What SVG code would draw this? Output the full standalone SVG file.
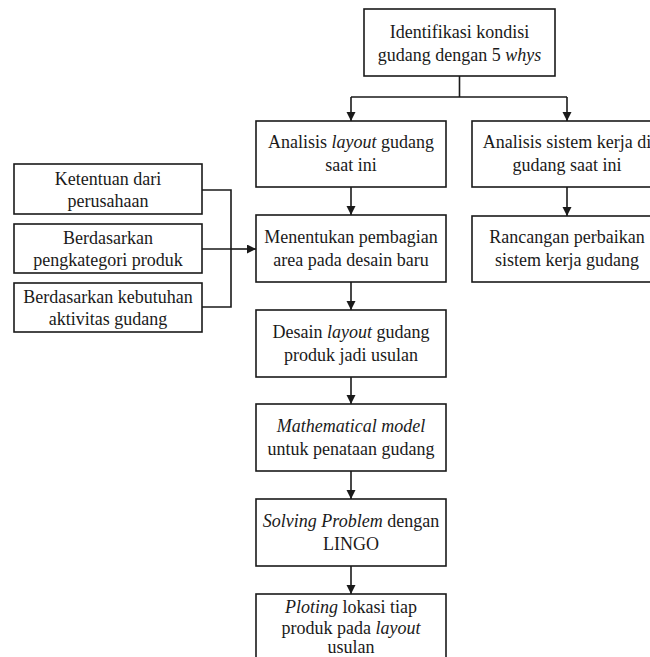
<svg xmlns="http://www.w3.org/2000/svg" width="650" height="657" viewBox="0 0 650 657">
<defs>
<style>
.box{fill:#fff;stroke:#1a1a1a;stroke-width:1.6}
.t{font-family:'Liberation Serif','DejaVu Serif','Noto Serif',serif;font-size:18px;fill:#1a1a1a;text-anchor:middle}
.i{font-style:italic}
.c{fill:none;stroke:#1a1a1a;stroke-width:1.6}
</style>
<marker id="ah" markerUnits="userSpaceOnUse" markerWidth="10" markerHeight="10" refX="9" refY="4.5" orient="auto">
<path d="M0,0 L9,4.5 L0,9 z" fill="#1a1a1a"/>
</marker>
</defs>
<rect width="650" height="657" fill="#fff"/>
<g id="connectors">
<path class="c" d="M459.5,76 V97 M351,97 H567"/>
<path class="c" d="M351,97 V121" marker-end="url(#ah)"/>
<path class="c" d="M567,97 V121" marker-end="url(#ah)"/>
<path class="c" d="M351,187 V215" marker-end="url(#ah)"/>
<path class="c" d="M567,187 V216" marker-end="url(#ah)"/>
<path class="c" d="M202,190 H231 V307 H202 M202,249 H231"/>
<path class="c" d="M231,249 H256" marker-end="url(#ah)"/>
<path class="c" d="M351,282 V310" marker-end="url(#ah)"/>
<path class="c" d="M351,377 V404" marker-end="url(#ah)"/>
<path class="c" d="M351,471 V499" marker-end="url(#ah)"/>
<path class="c" d="M351,566 V594" marker-end="url(#ah)"/>
</g>
<g id="n-identifikasi">
<rect class="box" x="364" y="9" width="191" height="67"/>
<text class="t" x="459.5" y="38" font-family="Liberation Serif, serif">Identifikasi kondisi</text>
<text class="t" x="459.5" y="61" font-family="Liberation Serif, serif">gudang dengan 5 <tspan class="i">whys</tspan></text>
</g>
<g id="n-analisis-layout">
<rect class="box" x="256" y="121" width="190" height="66"/>
<text class="t" x="351" y="148">Analisis <tspan class="i">layout</tspan> gudang</text>
<text class="t" x="351" y="171">saat ini</text>
</g>
<g id="n-analisis-sistem">
<rect class="box" x="472" y="121" width="190" height="66"/>
<text class="t" x="567" y="148">Analisis sistem kerja di</text>
<text class="t" x="567" y="171">gudang saat ini</text>
</g>
<g id="n-ketentuan">
<rect class="box" x="14" y="164" width="188" height="50"/>
<text class="t" x="108" y="185">Ketentuan dari</text>
<text class="t" x="108" y="207">perusahaan</text>
</g>
<g id="n-kategori">
<rect class="box" x="14" y="224" width="188" height="49"/>
<text class="t" x="108" y="244">Berdasarkan</text>
<text class="t" x="108" y="266">pengkategori produk</text>
</g>
<g id="n-kebutuhan">
<rect class="box" x="14" y="283" width="188" height="49"/>
<text class="t" x="108" y="303">Berdasarkan kebutuhan</text>
<text class="t" x="108" y="325">aktivitas gudang</text>
</g>
<g id="n-menentukan">
<rect class="box" x="256" y="215" width="190" height="67"/>
<text class="t" x="351" y="243">Menentukan pembagian</text>
<text class="t" x="351" y="266">area pada desain baru</text>
</g>
<g id="n-rancangan">
<rect class="box" x="472" y="216" width="190" height="66"/>
<text class="t" x="567" y="243">Rancangan perbaikan</text>
<text class="t" x="567" y="266">sistem kerja gudang</text>
</g>
<g id="n-desain">
<rect class="box" x="256" y="310" width="190" height="67"/>
<text class="t" x="351" y="338">Desain <tspan class="i">layout</tspan> gudang</text>
<text class="t" x="351" y="361">produk jadi usulan</text>
</g>
<g id="n-math">
<rect class="box" x="256" y="404" width="190" height="67"/>
<text class="t" x="351" y="432"><tspan class="i">Mathematical model</tspan></text>
<text class="t" x="351" y="455">untuk penataan gudang</text>
</g>
<g id="n-solving">
<rect class="box" x="256" y="499" width="190" height="67"/>
<text class="t" x="351" y="527"><tspan class="i">Solving Problem</tspan> dengan</text>
<text class="t" x="351" y="550">LINGO</text>
</g>
<g id="n-ploting">
<rect class="box" x="256" y="594" width="190" height="70"/>
<text class="t" x="351" y="613"><tspan class="i">Ploting</tspan> lokasi tiap</text>
<text class="t" x="351" y="634">produk pada <tspan class="i">layout</tspan></text>
<text class="t" x="351" y="653">usulan</text>
</g>
</svg>
